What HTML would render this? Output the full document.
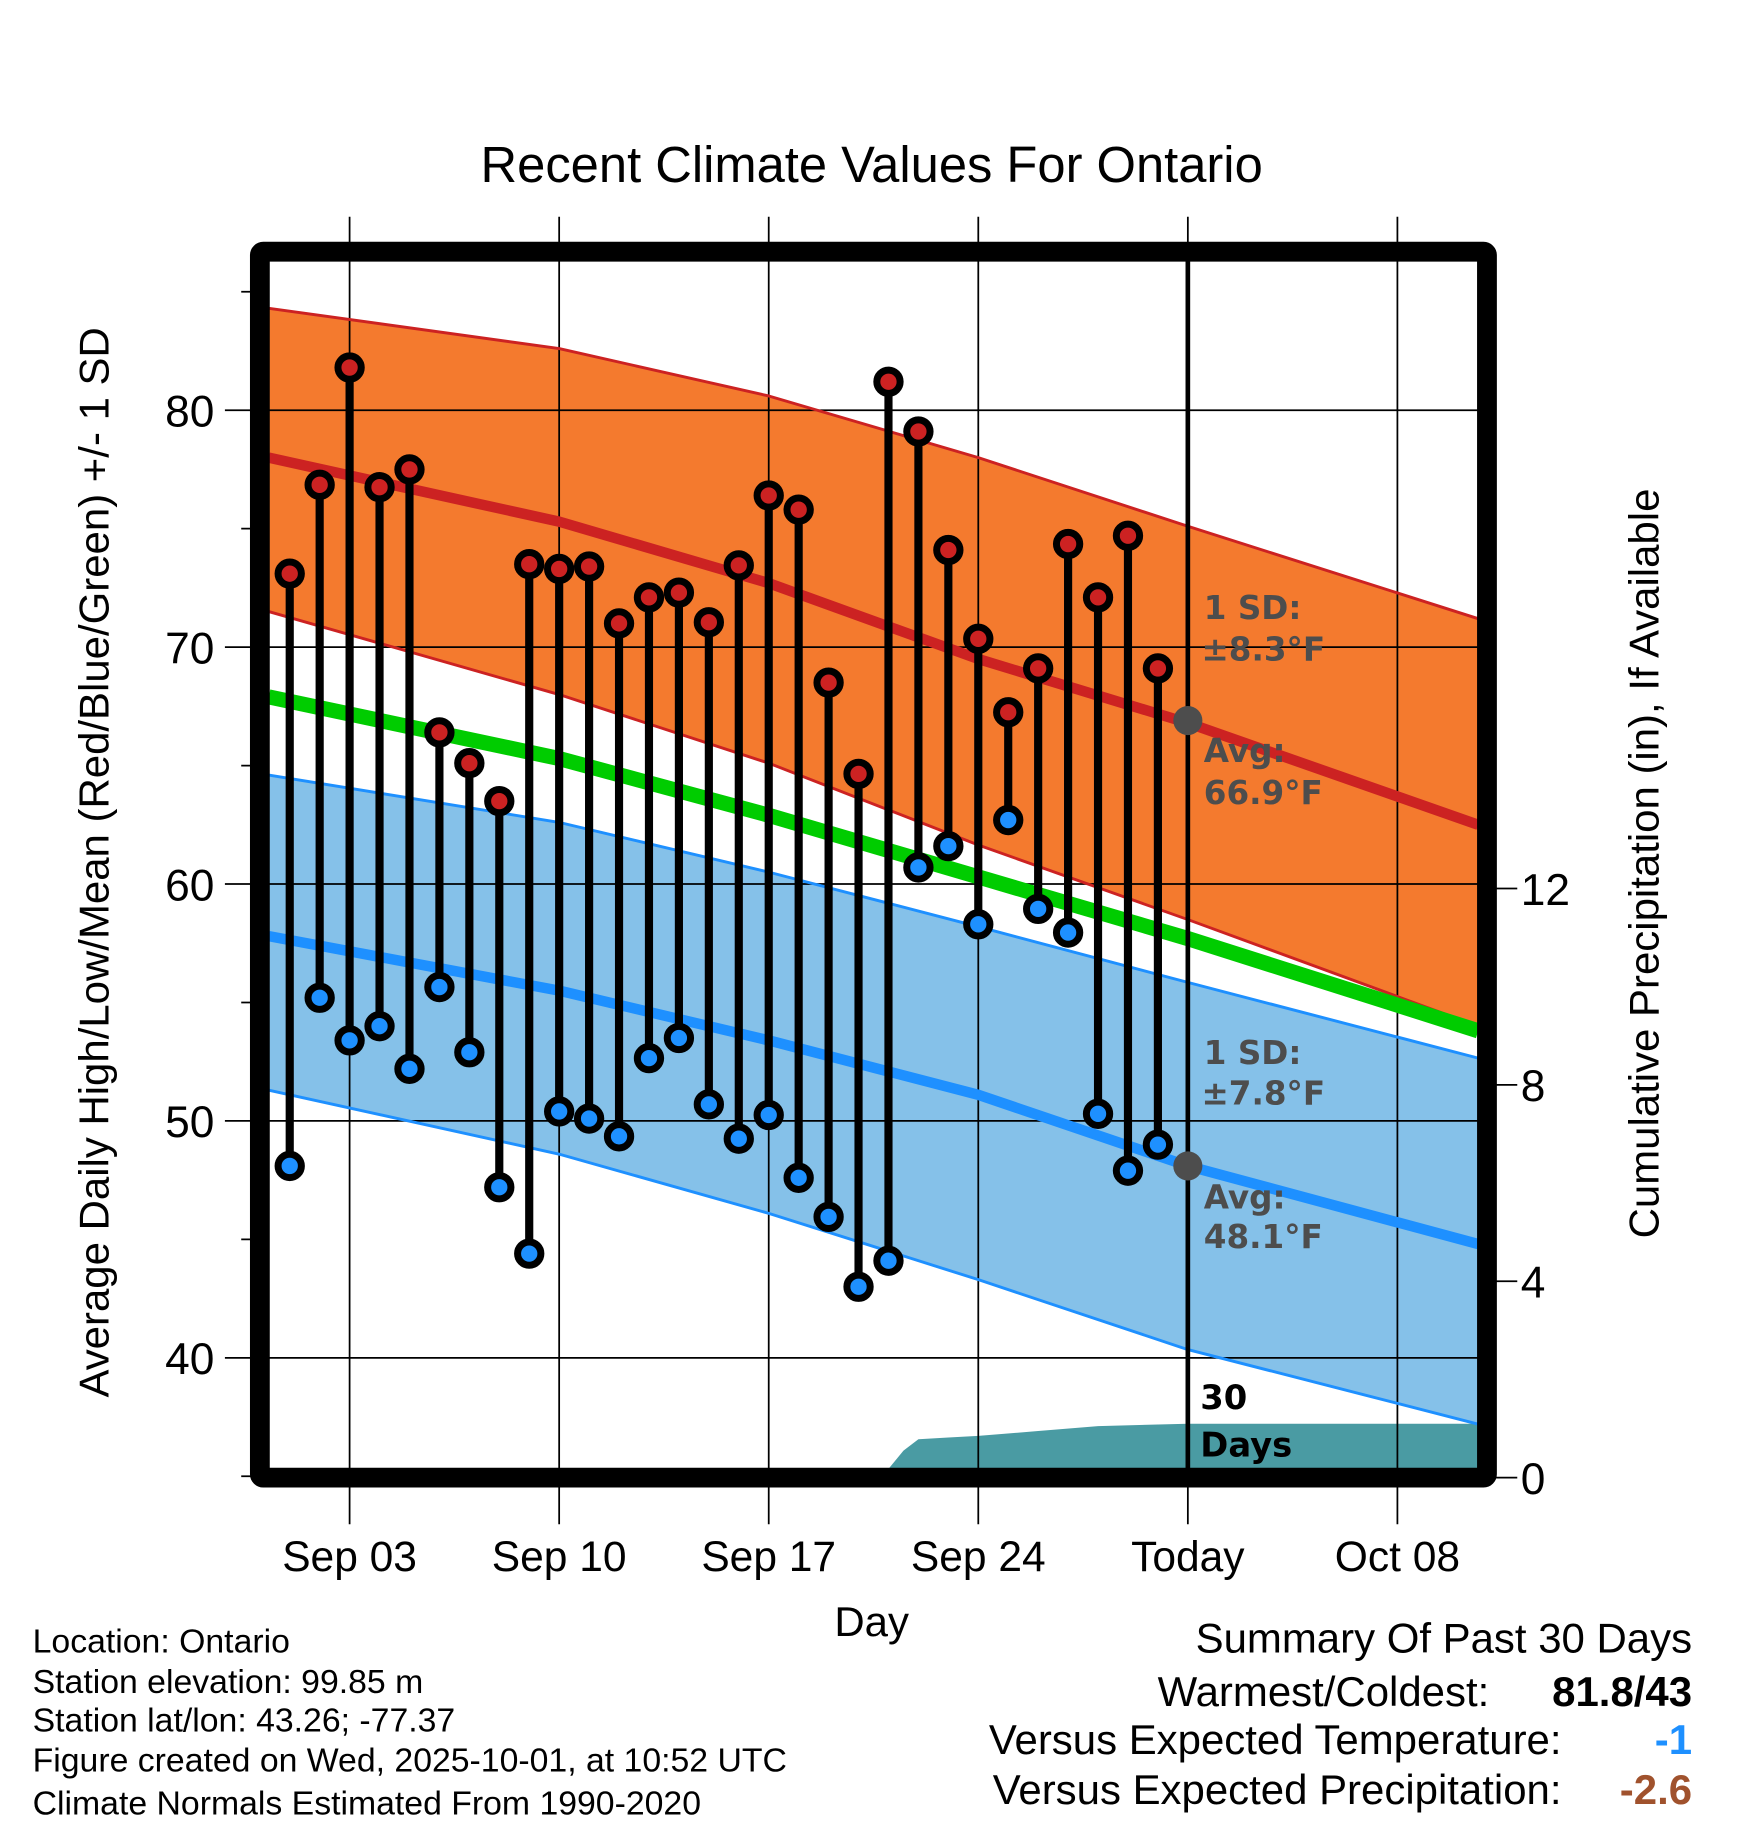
<!DOCTYPE html>
<html><head><meta charset="utf-8"><style>
html,body{margin:0;padding:0;background:#fff;}
svg{display:block;font-family:"Liberation Sans",Arial,sans-serif;}
</style></head><body>
<svg id="chart" width="1748" height="1828" viewBox="0 0 1500 1568.65" xmlns="http://www.w3.org/2000/svg">
<g id="bands"></g>
<g id="precip"></g>
<g id="grid"></g>
<g id="normlines"></g>
<g id="stems"></g>
<g id="axes"></g>
<text x="748" y="156" font-size="43.5" text-anchor="middle">Recent Climate Values For Ontario</text>
<text transform="translate(93,740) rotate(-90)" font-size="36" text-anchor="middle">Average Daily High/Low/Mean (Red/Blue/Green) +/- 1 SD</text>
<text transform="translate(1423,741) rotate(-90)" font-size="36" text-anchor="middle">Cumulative Precipitation (in), If Available</text>
<text x="748" y="1404" font-size="36" text-anchor="middle">Day</text>
<g font-family="'DejaVu Sans',sans-serif" font-weight="bold" font-size="28" fill="#4d4d4d">
<text x="1033" y="531">1 SD:</text>
<text x="1031" y="567">±8.3°F</text>
<text x="1033" y="654">Avg:</text>
<text x="1033" y="690">66.9°F</text>
<text x="1033" y="913">1 SD:</text>
<text x="1031" y="948">±7.8°F</text>
<text x="1033" y="1037">Avg:</text>
<text x="1033" y="1071">48.1°F</text>
</g>
<g font-family="'DejaVu Sans',sans-serif" font-weight="bold" font-size="29" fill="#000">
<text x="1030" y="1209">30</text>
<text x="1030" y="1250">Days</text>
</g>
<g font-size="29">
<text x="28" y="1418">Location: Ontario</text>
<text x="28" y="1453">Station elevation: 99.85 m</text>
<text x="28" y="1486">Station lat/lon: 43.26; -77.37</text>
<text x="28" y="1520">Figure created on Wed, 2025-10-01, at 10:52 UTC</text>
<text x="28" y="1557">Climate Normals Estimated From 1990-2020</text>
</g>
<g font-size="36">
<text x="1452" y="1418" text-anchor="end">Summary Of Past 30 Days</text>
<text x="1278" y="1464" text-anchor="end">Warmest/Coldest:</text>
<text x="1452" y="1464" text-anchor="end" font-weight="bold">81.8/43</text>
<text x="1340" y="1505" text-anchor="end">Versus Expected Temperature:</text>
<text x="1452" y="1505" text-anchor="end" font-weight="bold" fill="#1e90ff">-1</text>
<text x="1340" y="1548" text-anchor="end">Versus Expected Precipitation:</text>
<text x="1452" y="1548" text-anchor="end" font-weight="bold" fill="#a0522d">-2.6</text>
</g>
</svg>
<script>
// Day index: 0 = Aug 31, 3 = Sep 03 ... 31 = Oct 01 (Today)
const obsDays = [1,2,3,4,5,6,7,8,9,10,11,12,13,14,15,16,17,18,19,20,21,22,23,24,25,26,27,28,29,30];
const highs = [73.1,76.85,81.8,76.75,77.5,66.4,65.1,63.5,73.5,73.3,73.4,71.0,72.1,72.3,71.05,73.45,76.4,75.8,68.5,64.65,81.2,79.1,74.1,70.35,67.25,69.1,74.35,72.1,74.7,69.1];
const lows = [48.1,55.2,53.4,54.0,52.2,55.65,52.9,47.2,44.4,50.4,50.1,49.35,52.65,53.5,50.7,49.25,50.25,47.6,45.95,43.0,44.1,60.7,61.6,58.3,62.7,58.95,57.95,50.3,47.9,49.0];
const normDays = [0.3,10,17,24,31,40.7];
const normHighTop = [84.3,82.6,80.6,78.0,75.1,71.2];
const normHigh = [78.0,75.3,72.7,69.5,66.8,62.5];
const normHighBot = [71.5,68.0,65.1,61.65,58.5,54.0];
const normMean = [67.9,65.3,62.9,60.3,57.7,53.8];
const normLowTop = [64.6,62.6,60.5,58.2,55.85,52.65];
const normLow = [57.8,55.5,53.4,51.1,48.1,44.8];
const normLowBot = [51.3,48.6,46.1,43.3,40.35,37.2];
const precipDays = [0.3,6,20.8,21.5,22,23,24,26,28,31,40.7];
const precipVals = [0,0.03,0.03,0.55,0.78,0.82,0.85,0.95,1.05,1.1,1.1];
const xTickDays = [3,10,17,24,31,38];
const xTickLabels = ["Sep 03","Sep 10","Sep 17","Sep 24","Today","Oct 08"];
const yTicks = [40,50,60,70,80];
const yMinor = [35,45,55,65,75,85];
const y2Ticks = [0,4,8,12];
const todayDay = 31;
const todayHigh = 66.9, todayLow = 48.1;

const NS="http://www.w3.org/2000/svg";
const X=d=>300+(d-3)*25.69;
const Y=v=>352+(80-v)*20.33;
const Y2=p=>1268-p*42.13;
function el(tag,attrs,parent){const e=document.createElementNS(NS,tag);for(const k in attrs)e.setAttribute(k,attrs[k]);parent.appendChild(e);return e;}
const pts=(arr)=>normDays.map((d,i)=>X(d).toFixed(1)+","+Y(arr[i]).toFixed(1));
const bands=document.getElementById('bands');
let p=el('polygon',{points:pts(normHighTop).concat(pts(normHighBot).reverse()).join(" "),fill:"#f47a2e"},bands);


p=el('polygon',{points:pts(normLowTop).concat(pts(normLowBot).reverse()).join(" "),fill:"#85c1e9"},bands);


const pr=document.getElementById('precip');
const pp=precipDays.map((d,i)=>X(d).toFixed(1)+","+Y2(precipVals[i]).toFixed(1));
p=el('polygon',{points:[X(precipDays[0])+","+1268].concat(pp).concat([X(precipDays[precipDays.length-1])+","+1268]).join(" "),fill:"#4a9ba3"},pr);


const g=document.getElementById('grid');
xTickDays.forEach(d=>{const l=el('line',{x1:X(d),x2:X(d),y1:186,y2:1308,stroke:"#000","stroke-width":1.5},g);

});
yTicks.forEach(v=>{const l=el('line',{x1:193,x2:1268,y1:Y(v),y2:Y(v),stroke:"#000","stroke-width":1.5},g);

});
yMinor.forEach(v=>{const l=el('line',{x1:207,x2:223,y1:Y(v),y2:Y(v),stroke:"#000","stroke-width":1.5},g);

});
y2Ticks.forEach(v=>{const l=el('line',{x1:1276,x2:1302,y1:Y2(v),y2:Y2(v),stroke:"#000","stroke-width":1.5},g);

});
const nl=document.getElementById('normlines');
function pl(arr,col,w,name){const e=el('polyline',{points:pts(arr).join(" "),fill:"none",stroke:col,"stroke-width":w,"stroke-linejoin":"round"},nl);

}
pl(normHighTop,"#cc2222",2.5,"high-sd-upper");
pl(normHighBot,"#cc2222",2.5,"high-sd-lower");
pl(normLowTop,"#1e90ff",2.5,"low-sd-upper");
pl(normLowBot,"#1e90ff",2.5,"low-sd-lower");
pl(normMean,"#00cc00",13,"normal-mean-line");
pl(normHigh,"#cc2222",9,"normal-high-line");
pl(normLow,"#1e90ff",9,"normal-low-line");
let tl=el('line',{x1:X(todayDay),x2:X(todayDay),y1:224,y2:1268,stroke:"#000","stroke-width":4},nl);


const st=document.getElementById('stems');
obsDays.forEach((d,i)=>{
  const x=X(d);
  const l=el('line',{x1:x,x2:x,y1:Y(highs[i]),y2:Y(lows[i]),stroke:"#000","stroke-width":7},st);
  
  
  const c1=el('circle',{cx:x,cy:Y(highs[i]),r:10,fill:"#cc2222",stroke:"#000","stroke-width":6},st);
  
  
  const c2=el('circle',{cx:x,cy:Y(lows[i]),r:10,fill:"#1e90ff",stroke:"#000","stroke-width":6},st);
  
  
});
let td=el('circle',{cx:X(todayDay),cy:Y(todayHigh),r:12.5,fill:"#4d4d4d"},st);


td=el('circle',{cx:X(todayDay),cy:Y(todayLow),r:12.5,fill:"#4d4d4d"},st);


const ax=document.getElementById('axes');
const fr=el('rect',{x:223,y:216,width:1053,height:1052,fill:"none",stroke:"#000","stroke-width":17,rx:3},ax);


yTicks.forEach(v=>{const t=el('text',{x:184,y:Y(v)+14,"font-size":38,"text-anchor":"end"},ax);t.textContent=v;

});
y2Ticks.forEach(v=>{const t=el('text',{x:1305,y:Y2(v)+14,"font-size":38},ax);t.textContent=v;

});
xTickDays.forEach((d,i)=>{const t=el('text',{x:X(d),y:1348,"font-size":36.5,"text-anchor":"middle"},ax);t.textContent=xTickLabels[i];

});
</script>
</body></html>
